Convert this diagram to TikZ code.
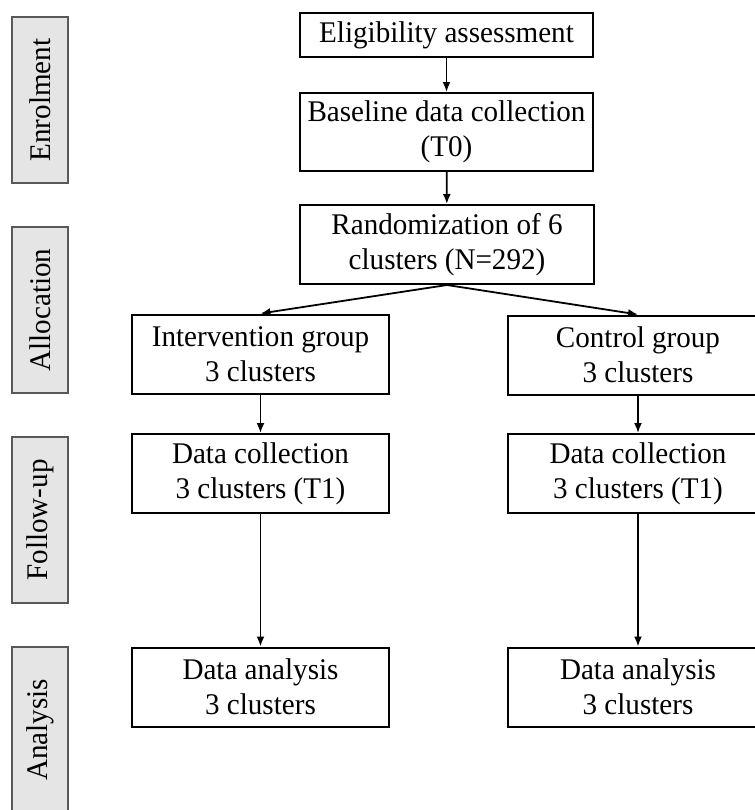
\documentclass[tikz,border=0pt]{standalone}
\usepackage{fontspec}
\setmainfont[FakeStretch=0.97]{Liberation Serif}
\usetikzlibrary{arrows.meta}

\begin{document}
\begin{tikzpicture}[x=0.5pt,y=-0.5pt,
  font=\fontsize{15}{17.5}\selectfont,
  box/.style={rectangle,draw,line width=1pt,fill=white,align=center,inner sep=0pt,minimum width=128.5pt,minimum height=39.5pt},
  phase/.style={rectangle,draw=black!65,line width=0.8pt,fill=black!10,rotate=90,minimum width=83pt,minimum height=28pt,inner sep=0pt},
  flow/.style={-{Latex[length=5pt,width=4pt]},line width=0.9pt}
  ]

\useasboundingbox (0,0) rectangle (755,810);
\clip (0,0) rectangle (755,810);

% phases on the left
\node[phase] (enrol) at (40,100) {Enrolment};
\node[phase] (alloc) at (40,310) {Allocation};
\node[phase] (follow) at (40,520) {Follow-up};
\node[phase] (analys) at (40,730) {Analysis};

% main flow
\node[box,minimum width=146.5pt,minimum height=22pt] (elig) at (446.5,35) {Eligibility assessment};
\node[box,minimum width=146.5pt,minimum height=39pt] (base) at (446.5,132) {Baseline data collection\\(T0)};
\node[box,minimum width=147pt] (rand) at (447,244.5) {Randomization of 6\\clusters (N=292)};

% two arms
\node[box] (interv) at (260.5,354) {Intervention group\\3 clusters};
\node[box,minimum width=130pt] (ctrl) at (638,355) {Control group\\3 clusters};
\node[box] (collL) at (260.5,473.5) {Data collection\\3 clusters (T1)};
\node[box,minimum width=130pt] (collR) at (638,473.5) {Data collection\\3 clusters (T1)};
\node[box] (anaL) at (260.5,687) {Data analysis\\3 clusters};
\node[box,minimum width=130pt] (anaR) at (638,687) {Data analysis\\3 clusters};

\draw[flow] (elig) -- (base);
\draw[flow] (base) -- (rand);
\draw[flow] (rand.south) -- (interv.north);
\draw[flow] (rand.south) -- (ctrl.north);
\draw[flow] (interv) -- (collL);
\draw[flow] (ctrl) -- (collR);
\draw[flow] (collL) -- (anaL);
\draw[flow] (collR) -- (anaR);

\end{tikzpicture}
\end{document}
